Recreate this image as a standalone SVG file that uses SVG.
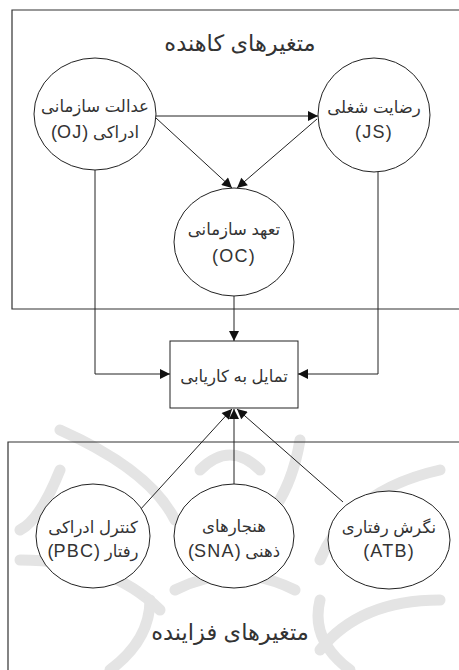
<svg xmlns="http://www.w3.org/2000/svg" width="459" height="670" viewBox="0 0 459 670">
<style>
  .frame{fill:none;stroke:#333;stroke-width:1.2}
  .node{fill:#fff;stroke:#222;stroke-width:1}
  .wm{fill:none;stroke:#e4e4e4;stroke-width:11;stroke-linecap:round}
  .edge{fill:none;stroke:#222;stroke-width:1}
  text{font-family:"Liberation Sans","DejaVu Sans",sans-serif;fill:#333;text-anchor:middle}
  .lbl{font-size:16.5px}
  .lat{font-size:18px;letter-spacing:1.2px}
  .title{font-size:22.5px}
</style>
<defs>
  <marker id="arr" viewBox="0 0 10 10" refX="10" refY="5" markerWidth="11" markerHeight="10" markerUnits="userSpaceOnUse" orient="auto">
    <path d="M0,0 L10,5 L0,10 Z" fill="#111"/>
  </marker>
</defs>
<rect width="459" height="670" fill="#fff"/>
<g id="watermark">
  <path class="wm" d="M60,430 Q150,470 175,520"/>
  <path class="wm" d="M300,440 Q290,500 255,530"/>
  <path class="wm" d="M440,470 Q350,490 320,560"/>
  <path class="wm" d="M20,560 Q110,560 160,610"/>
  <path class="wm" d="M440,600 Q360,600 320,650"/>
  <path class="wm" d="M200,470 Q230,440 260,470"/>
  <path class="wm" d="M150,600 Q150,640 110,670"/>
  <path class="wm" d="M320,600 Q310,640 350,670"/>
  <path class="wm" d="M175,590 Q235,560 295,590"/>
  <path class="wm" d="M60,470 Q40,520 20,530"/>
</g>
<g id="group-top">
  <path class="frame" d="M460,10 L12,10 L12,309 L460,309"/>
  <text class="title" x="240" y="51" direction="rtl">متغیرهای کاهنده</text>
</g>
<g id="group-bottom">
  <path class="frame" d="M460,442 L8,442 L8,671"/>
  <text class="title" x="230" y="640" direction="rtl">متغیرهای فزاینده</text>
</g>
<g id="connectors">
  <line class="edge" x1="156" y1="116" x2="318" y2="116" marker-end="url(#arr)"/>
  <line class="edge" x1="156" y1="118" x2="232" y2="188" marker-end="url(#arr)"/>
  <line class="edge" x1="317" y1="119" x2="237" y2="188" marker-end="url(#arr)"/>
  <polyline class="edge" points="95,170 95,374 170,374" marker-end="url(#arr)"/>
  <polyline class="edge" points="378,172 378,374 298,374" marker-end="url(#arr)"/>
  <line class="edge" x1="234" y1="296" x2="234" y2="341" marker-end="url(#arr)"/>
  <line class="edge" x1="139" y1="511" x2="232" y2="409" marker-end="url(#arr)"/>
  <line class="edge" x1="234" y1="484" x2="234" y2="409" marker-end="url(#arr)"/>
  <line class="edge" x1="343" y1="502" x2="237" y2="409" marker-end="url(#arr)"/>
</g>
<g id="node-OJ">
  <ellipse class="node" cx="95" cy="114" rx="61" ry="56"/>
  <text class="lbl" x="95" y="112" direction="rtl">عدالت سازمانی</text>
  <text class="lbl" x="95" y="138" direction="rtl">ادراکی <tspan class="lat">(OJ)</tspan></text>
</g>
<g id="node-JS">
  <ellipse class="node" cx="374" cy="115" rx="56" ry="57"/>
  <text class="lbl" x="374" y="113" direction="rtl">رضایت شغلی</text>
  <text class="lbl lat" x="374" y="138" direction="rtl">(JS)</text>
</g>
<g id="node-OC">
  <ellipse class="node" cx="234" cy="242" rx="60" ry="54"/>
  <text class="lbl" x="234" y="235" direction="rtl">تعهد سازمانی</text>
  <text class="lbl lat" x="234" y="262" direction="rtl">(OC)</text>
</g>
<g id="node-target">
  <rect class="node" x="170" y="341" width="128" height="67"/>
  <text class="lbl" x="234" y="382" direction="rtl">تمایل به کاریابی</text>
</g>
<g id="node-PBC">
  <ellipse class="node" cx="93" cy="536" rx="57" ry="52"/>
  <text class="lbl" x="93" y="533" direction="rtl">کنترل ادراکی</text>
  <text class="lbl" x="93" y="557" direction="rtl">رفتار <tspan class="lat">(PBC)</tspan></text>
</g>
<g id="node-SNA">
  <ellipse class="node" cx="234" cy="536" rx="60" ry="52"/>
  <text class="lbl" x="234" y="532" direction="rtl">هنجارهای</text>
  <text class="lbl" x="234" y="557" direction="rtl">ذهنی <tspan class="lat">(SNA)</tspan></text>
</g>
<g id="node-ATB">
  <ellipse class="node" cx="389" cy="540" rx="61" ry="49"/>
  <text class="lbl" x="389" y="533" direction="rtl">نگرش رفتاری</text>
  <text class="lbl lat" x="389" y="557" direction="rtl">(ATB)</text>
</g>
</svg>
